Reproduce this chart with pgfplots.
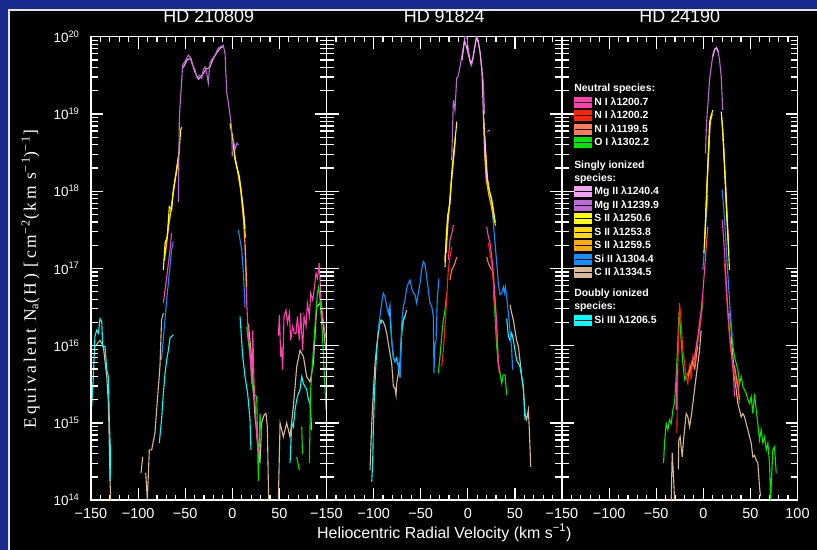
\documentclass[border=0pt]{standalone}
\usepackage{pgfplots}
\pgfplotsset{compat=1.18}
\usepackage{fontspec}
\setmainfont{Liberation Sans}
\newfontfamily\ylfont{Liberation Serif}[LetterSpace=15]
\definecolor{bgblue}{HTML}{1A2A8E}
\definecolor{cNa}{HTML}{FF40B0}
\definecolor{cNb}{HTML}{FF2400}
\definecolor{cNc}{HTML}{FF7A58}
\definecolor{cO}{HTML}{00E600}
\definecolor{cMa}{HTML}{F0A0F0}
\definecolor{cMb}{HTML}{C068D8}
\definecolor{cSa}{HTML}{FFFF00}
\definecolor{cSb}{HTML}{FFD700}
\definecolor{cSc}{HTML}{FFAA00}
\definecolor{cSi}{HTML}{1090FF}
\definecolor{cC}{HTML}{D8B894}
\definecolor{cSiIII}{HTML}{00FFFF}
\pgfplotsset{
  ln/.style={no markers, line width=1.1bp, color=#1},
  sw/.style={legend image code/.code={\fill[#1] (0bp,-5bp) rectangle (16.5bp,5bp); \path (0bp,0bp) -- (19bp,0bp);}},
  pnl/.style={
    anchor=south west, scale only axis,
    width=235.5bp, height=463.5bp,
    axis background/.style={fill=black},
    axis line style={white, line width=1.5bp},
    tick style={white, line width=1.2bp},
    major tick length=12bp, minor tick length=5bp,
    tick align=inside,
    xtick={-150,-100,-50,0,50,100}, minor x tick num=4,
    ytick={1e14,1e15,1e16,1e17,1e18,1e19,1e20},
    xticklabel style={text=white, font=\fontsize{14.5}{16}\selectfont, yshift=-5bp},
    yticklabel style={text=white, font=\fontsize{13.5}{15}\selectfont, xshift=-8bp},
    title style={text=white, font=\fontsize{18}{20}\selectfont, at={(0.5,1)}, anchor=base, yshift=8.4bp},
  },
  mnr/.style={
    anchor=south west, scale only axis,
    width=235.5bp, height=463.5bp,
    xmin=-150, xmax=100, ymin=14, ymax=20,
    axis x line=none, axis y line=box,
    y axis line style={white, line width=1.5bp},
    tick align=inside, major tick length=7bp,
    every tick/.style={white, line width=1.3bp},
    ytick={14.301,14.477,14.602,14.699,14.778,14.845,14.903,14.954,
           15.301,15.477,15.602,15.699,15.778,15.845,15.903,15.954,
           16.301,16.477,16.602,16.699,16.778,16.845,16.903,16.954,
           17.301,17.477,17.602,17.699,17.778,17.845,17.903,17.954,
           18.301,18.477,18.602,18.699,18.778,18.845,18.903,18.954,
           19.301,19.477,19.602,19.699,19.778,19.845,19.903,19.954},
    yticklabels={},
  }
}
\begin{document}
\begin{tikzpicture}[x=1bp,y=1bp]
\useasboundingbox (0,0) rectangle (817,550);
\fill[bgblue] (0,0) rectangle (817,550);
\fill[black] (8.5,0) rectangle (817,540.5);
\draw[white!80!gray, line width=1.6] (9.2,0) -- (9.2,539.8) -- (817,539.8);

%% ---------------- Panel 1 ----------------
\begin{axis}[pnl, at={(91bp,49.8bp)},
  xmin=-150, xmax=100, ymode=log, ymin=1e14, ymax=1e20,
  xticklabels={−150,−100,−50,0,50,{}},
  title={HD 210809},
  yticklabels={10\textsuperscript{14},10\textsuperscript{15},10\textsuperscript{16},10\textsuperscript{17},10\textsuperscript{18},10\textsuperscript{19},10\textsuperscript{20}},
  ylabel={\ylfont\fontsize{17.5}{19}\selectfont Equivalent N\textsubscript{a}(H) [cm\textsuperscript{−2}(km s\textsuperscript{−1})\textsuperscript{−1}]},
  ylabel style={text=white, at={(axis description cs:-0.257,0.477)}, anchor=center}]
% C II
\addplot[ln=cC] coordinates {(-145.8,9.77e15)(-140.4,1.17e16)(-136.9,9.77e15)(-133.3,3.98e15)(-131.5,1.78e15)(-129.7,1.62e14)(-129.0,1.0e14)};
\addplot[ln=cC] coordinates {(-96.9,2.24e14)(-95.1,3.63e14)};
\addplot[ln=cC] coordinates {(-91.9,2.24e14)(-90.2,1.0e14)(-88.1,4.47e14)(-85.6,4.47e14)(-82.1,7.41e14)(-80.3,1.48e15)(-76.8,5.37e15)(-75.1,2.14e16)(-73.2,2.63e16)};
\addplot[ln=cC] coordinates {(17.1,1.91e16)(20.6,6.61e15)(24.1,1.20e15)(27.7,4.90e14)(29.4,3.02e14)(31.2,1.0e15)(33.7,1.26e15)(35.8,1.32e15)(37.2,8.91e14)(38.6,1.0e14)};
\addplot[ln=cC] coordinates {(48.9,1.0e14)(50.7,1.0e15)(54.2,6.61e14)(57.7,1.0e15)(61.3,6.61e14)(64.8,1.62e15)(68.4,5.37e15)(71.9,8.71e15)(75.5,7.24e15)(79.0,3.98e15)(82.5,3.39e15)(86.1,5.89e15)(89.6,3.16e16)(93.2,3.55e16)(96.7,1.78e16)(99.2,8.71e15)};
% Si III
\addplot[ln=cSiIII] coordinates {(-149.3,1.62e15)(-147.5,3.98e15)(-145.8,1.32e16)(-144.0,1.58e16)(-142.2,1.45e16)(-140.4,2.24e16)(-138.6,2.04e16)(-137.5,9.77e15)(-135.1,9.77e15)(-133.3,4.90e15)(-131.5,3.98e15)(-130.5,1.0e15)(-129.1,3.63e14)(-129.8,1.78e14)};
\addplot[ln=cSiIII] coordinates {(-77.5,5.50e14)(-75.1,1.10e15)(-73.2,2.40e15)(-71.4,4.37e15)(-69.6,6.61e15)(-67.9,8.71e15)(-66.1,1.26e16)(-62.6,1.38e16)};
\addplot[ln=cSiIII] coordinates {(8.2,2.40e16)(11.0,7.41e15)(13.5,3.98e15)(16.3,2.40e15)(18.8,1.10e15)(19.8,4.47e14)};
\addplot[ln=cSiIII] coordinates {(61.3,3.02e14)(63.1,1.0e15)(64.8,8.91e14)(66.6,1.48e15)(68.4,2.00e15)(70.1,2.40e15)(71.9,2.69e15)(73.7,3.98e15)(75.5,3.24e15)(77.2,2.95e15)(79.0,2.69e15)(80.8,2.00e15)(82.5,1.78e15)(84.3,8.13e14)};
% Si II
\addplot[ln=cSi] coordinates {(-75.1,6.61e15)(-69.7,3.89e16)(-64.4,1.74e17)(-62.6,2.24e17)};
\addplot[ln=cSi] coordinates {(6.4,3.16e17)(10.0,1.74e17)(12.0,7.94e16)(13.5,3.16e16)};
% O I
\addplot[ln=cO] coordinates {(15.3,1.74e16)(18.8,7.41e15)(22.3,2.40e15)(25.9,2.19e15)(27.7,1.78e14)(29.4,1.32e15)(31.2,6.61e14)};
\addplot[ln=cO] coordinates {(68.4,3.63e14)(71.2,2.45e14)};
\addplot[ln=cO] coordinates {(73.7,8.91e14)(74.5,3.98e14)};
\addplot[ln=cO] coordinates {(81.8,3.02e14)(83.2,2.69e15)(85.4,6.61e15)(87.8,1.78e16)(90.3,4.79e16)(91.7,5.75e16)(93.2,3.89e16)(95.6,1.45e16)(97.8,3.98e15)(99.5,1.48e15)};
% N I 1200.7
\addplot[ln=cNa] coordinates {(-73.2,3.55e16)(-69.6,7.76e16)(-66.1,1.74e17)(-64.4,2.88e17)};
\addplot[ln=cNa] coordinates {(13.5,2.0e17)(15.3,3.55e16)(17.1,1.32e16)(18.8,8.71e15)(20.6,3.16e15)(21.7,1.58e16)(23.1,3.24e15)(25.9,6.61e14)(27.7,4.07e14)};
\addplot[ln=cNa] coordinates {(48.9,1.32e16)(50.0,2.51e16)(51.4,7.24e15)(52.4,8.71e15)(53.5,4.90e15)(54.9,2.40e16)(57.0,2.88e16)(58.5,1.95e16)(60.6,2.63e16)(62.0,1.17e16)(64.1,1.78e16)(65.9,1.45e16)(67.7,1.45e16)(69.1,2.40e16)(71.2,1.17e16)(72.6,2.63e16)(74.7,8.71e15)(76.2,2.40e16)(78.3,1.78e16)(79.7,3.55e16)(81.8,2.40e16)(83.2,4.79e16)(85.4,3.89e16)(86.8,5.25e16)(88.9,8.71e16)(90.3,7.41e16)(92.4,1.17e17)(93.9,4.37e16)(96.0,2.40e16)(97.4,1.78e16)(99.5,1.26e16)};
% S II
\addplot[ln=cSc] coordinates {(-71,1.58e17)(-67,3.98e17)(-63,8.91e17)(-60,1.58e18)(-57,2.82e18)};
\addplot[ln=cSc] coordinates {(2,3.16e18)(5,2.00e18)(9,1.0e18)(12,3.98e17)(14,1.58e17)(15.3,5.75e16)};
\addplot[ln=cSb] coordinates {(-72,1.26e17)(-68,3.55e17)(-65,5.62e17)(-62,1.12e18)(-59,2.00e18)(-56,3.55e18)};
\addplot[ln=cSb] coordinates {(0,5.62e18)(3,2.51e18)(6,1.78e18)(9,1.12e18)(12,5.01e17)(14,2.51e17)};
\addplot[ln=cSa] coordinates {(-73.2,9.55e16)(-71.4,2.14e17)(-69.0,2.57e17)(-66.9,6.31e17)(-64.4,5.75e17)(-62.6,1.05e18)(-59.0,1.86e18)(-56.6,3.09e18)(-54.8,6.17e18)(-53.7,6.76e18)};
\addplot[ln=cSa] coordinates {(-2.4,7.59e18)(1.1,4.17e18)(2.9,2.69e18)(4.7,2.09e18)(7.5,1.55e18)(10.0,8.51e17)(11.8,5.75e17)(13.5,3.31e17)};
% Mg II
\addplot[ln=cMa] coordinates {(-52,3.98e19)(-48,5.01e19)(-44,5.25e19)(-40,3.55e19)(-36,2.82e19)(-32,3.16e19)(-28,3.80e19)(-24,3.98e19)(-20,5.25e19)(-16,6.31e19)(-12,7.24e19)(-9,7.41e19)};
\addplot[ln=cMb] coordinates {(-57.3,7.24e17)(-56.2,9.12e18)(-52.7,4.27e19)(-50.2,4.79e19)(-46.7,5.75e19)(-44.9,5.50e19)(-43.1,4.57e19)(-39.6,3.72e19)(-37.8,3.02e19)(-34.3,3.16e19)(-32.5,2.88e19)(-30.8,3.72e19)(-29.0,4.07e19)(-27.2,3.39e19)(-25.5,2.51e19)(-23.7,4.57e19)(-21.9,5.01e19)(-18.4,5.75e19)(-14.9,7.08e19)(-9.6,7.76e19)(-7.7,6.03e19)(-5.9,1.86e19)(-4.1,1.38e19)(-1.7,8.32e18)(-0.6,6.17e18)(0.0,2.82e18)};
\addplot[ln=cMb] coordinates {(1.1,4.57e18)(3,3.55e18)(5,4.17e18)(6.4,3.98e18)};
\end{axis}
\begin{axis}[mnr, at={(91bp,49.8bp)}]
\addplot[draw=none, forget plot] coordinates {(-150,14)(100,20)};
\end{axis}

%% ---------------- Panel 2 ----------------
\begin{axis}[pnl, at={(326.5bp,49.8bp)},
  xmin=-150, xmax=100, ymode=log, ymin=1e14, ymax=1e20,
  yticklabels={},
  xticklabels={−150,−100,−50,0,50,{}},
  title={HD 91824},
  xlabel={Heliocentric Radial Velocity (km s\textsuperscript{−1})},
  xlabel style={text=white, font=\fontsize{16}{18}\selectfont, at={(axis description cs:0.5,0)}, anchor=base, yshift=-38bp}]
% C II
\addplot[ln=cC] coordinates {(-103.8,2.45e14)(-102.0,9.77e14)(-100.3,2.51e15)(-98.5,5.89e15)(-96.7,9.77e15)(-95.0,1.45e16)(-93.2,1.95e16)(-91.4,2.14e16)(-89.7,2.04e16)(-87.9,1.78e16)(-86.1,1.45e16)(-84.4,1.07e16)(-82.6,7.94e15)(-80.8,5.89e15)(-79.0,2.95e15)(-77.3,2.82e15)(-76.2,2.29e15)(-75.5,3.24e15)(-73.7,4.37e15)(-72.0,5.89e15)(-70.2,1.58e16)(-68.4,2.14e16)(-66.7,2.40e16)(-64.9,2.88e16)};
\addplot[ln=cC] coordinates {(44.8,3.39e16)(46.6,2.63e16)(48.4,2.14e16)(50.1,1.58e16)(51.9,1.17e16)(53.7,9.77e15)(55.4,6.46e15)(57.2,3.98e15)(59.0,2.69e15)(60.7,1.32e15)(62.5,1.10e15)(64.3,1.48e15)(65.3,8.13e14)(66.8,2.69e14)};
% Si III
\addplot[ln=cSiIII] coordinates {(-102.0,1.74e14)(-101.0,3.02e14)(-100.3,8.13e14)(-99.2,2.19e15)(-97.8,4.90e15)(-96.7,8.71e15)(-95.0,1.58e16)(-93.2,2.14e16)(-91.4,1.95e16)};
\addplot[ln=cSiIII] coordinates {(-84.0,2.82e16)(-82.6,2.40e16)(-80.8,1.17e16)(-79.0,6.92e15)(-77.3,6.17e15)(-75.5,6.92e15)(-73.7,5.37e15)(-72.0,3.98e15)(-70.9,9.77e15)(-69.8,1.58e16)(-68.4,2.14e16)(-66.7,2.40e16)};
\addplot[ln=cSiIII] coordinates {(41.3,2.24e16)(43.1,1.32e16)(44.8,1.17e16)(46.6,1.45e16)(48.4,1.17e16)(50.1,8.71e15)(51.9,6.46e15)(53.7,5.89e15)(55.4,5.37e15)(57.2,3.98e15)(59.0,2.95e15)(60.7,1.10e15)};
% Si II
\addplot[ln=cSi] coordinates {(-95.0,1.58e16)(-93.2,2.40e16)(-91.4,3.55e16)(-89.7,4.79e16)(-87.9,4.27e16)(-86.1,3.24e16)(-84.4,2.63e16)(-82.6,3.39e16)(-80.8,1.17e16)(-79.0,7.24e15)(-77.3,6.17e15)(-75.5,6.46e15)(-73.7,5.89e15)(-72.0,3.80e15)(-70.2,1.95e16)(-68.4,3.24e16)(-66.7,3.89e16)(-64.9,5.50e16)(-63.1,6.46e16)(-61.3,7.08e16)(-59.6,5.50e16)(-57.8,4.79e16)(-56.0,4.57e16)(-54.3,3.55e16)(-52.5,4.79e16)(-50.7,6.46e16)(-49.0,9.55e16)(-47.2,1.23e17)(-45.4,1.12e17)(-43.7,7.76e16)(-41.9,5.25e16)(-40.1,3.55e16)(-38.3,3.24e16)(-36.6,2.40e16)(-35.9,4.37e15)(-34.8,1.07e16)(-33.7,1.17e16)(-32.3,4.27e16)(-30.6,7.41e16)};
\addplot[ln=cSi] coordinates {(21.8,9.33e17)(23.6,7.76e17)(25.4,6.31e17)(27.1,3.89e17)(28.9,2.14e17)(30.7,1.17e17)(32.4,6.46e16)(34.2,4.57e16)(36.0,4.79e16)(37.7,5.75e16)(38.8,4.79e16)(39.9,5.75e16)(41.3,4.27e16)(43.1,2.63e16)(44.8,1.58e16)(46.6,8.71e15)(47.6,4.90e15)};
% O I
\addplot[ln=cO] coordinates {(-31.3,4.37e15)(-29.5,7.24e15)(-27.7,1.32e16)(-26.0,2.14e16)(-24.2,2.88e16)(-22.4,4.79e16)};
\addplot[ln=cO] coordinates {(27.1,5.25e16)(28.9,2.40e16)(30.7,9.77e15)(32.4,5.89e15)(34.2,4.37e15)(36.0,3.24e15)(37.7,4.17e15)(39.5,4.17e15)(41.3,2.29e15)};
% N I
\addplot[ln=cNb] coordinates {(-27.7,5.37e15)(-26.0,8.71e15)(-24.2,1.78e16)(-22.4,4.27e16)(-20.7,9.55e16)(-18.9,1.41e17)(-17.1,1.91e17)};
\addplot[ln=cNb] coordinates {(21.8,2.14e17)(23.6,1.58e17)(25.4,1.17e17)(27.1,6.46e16)(28.9,3.24e16)(30.7,1.45e16)(32.4,5.89e15)(33.5,4.37e15)};
\addplot[ln=cNc] coordinates {(-18.9,7.08e16)(-17.1,9.55e16)(-15.3,1.05e17)(-13.6,1.17e17)(-11.8,1.41e17)};
\addplot[ln=cNc] coordinates {(20.1,1.41e17)(21.8,1.17e17)(23.6,1.05e17)(25.4,9.55e16)};
\addplot[ln=cNa] coordinates {(-20.7,1.29e17)(-18.9,2.34e17)(-17.1,2.82e17)(-15.3,3.63e17)};
\addplot[ln=cNa] coordinates {(20.1,3.47e17)(21.8,2.57e17)(23.6,2.14e17)(25.4,1.41e17)(27.1,8.71e16)(28.9,4.27e16)(30.7,1.95e16)(32.4,5.89e15)(34.2,4.37e15)};
% S II
\addplot[ln=cSc] coordinates {(-24.5,1.26e17)(-22,3.55e17)(-20,5.62e17)(-17,1.58e18)(-14,3.98e18)};
\addplot[ln=cSc] coordinates {(17.5,3.55e18)(19.5,1.41e18)(22,9.33e17)(25,6.31e17)(27.5,4.47e17)(29.5,3.55e17)};
\addplot[ln=cSb] coordinates {(-23,1.58e17)(-21,3.98e17)(-19,7.94e17)(-16,2.0e18)(-13,5.01e18)};
\addplot[ln=cSb] coordinates {(17,7.94e18)(19,3.16e18)(21,1.41e18)(23,1.0e18)(25,7.94e17)(27,5.62e17)(29,3.98e17)};
\addplot[ln=cSa] coordinates {(-24.2,1.05e17)(-22.4,3.16e17)(-21.3,4.90e17)(-18.9,6.92e17)(-17.1,1.70e18)(-15.3,2.82e18)(-13.6,4.57e18)(-12.5,6.17e18)(-11.8,7.94e18)};
\addplot[ln=cSa] coordinates {(16.5,1.07e19)(18.3,4.17e18)(20.1,1.70e18)(21.8,1.15e18)(23.6,9.33e17)(25.4,7.76e17)(27.1,5.75e17)(28.9,3.89e17)};
% Mg II
\addplot[ln=cMb] coordinates {(-17.1,2.51e18)(-15.3,1.51e19)(-13.6,1.12e19)(-11.8,2.88e19)(-10.0,3.16e19)(-8.3,4.07e19)(-6.5,5.50e19)(-4.7,7.41e19)(-3.0,1.0e20)(-1.2,1.05e20)(0.6,6.76e19)(2.4,5.01e19)(4.1,4.27e19)(5.9,5.50e19)(7.7,7.41e19)(9.4,1.05e20)(11.2,8.32e19)(13.0,6.17e19)(14.7,4.07e19)(16.5,2.51e19)(17.8,1.0e19)};
\addplot[ln=cMb] coordinates {(20.8,5.89e18)(23.3,6.17e18)};
\addplot[ln=cMa] coordinates {(-6,5.01e19)(-3.5,8.91e19)(-1,7.08e19)(1,5.62e19)(3,4.47e19)(5,5.01e19)(7,7.08e19)(9,9.55e19)(11,8.91e19)(13,6.31e19)(15,3.55e19)(17.6,3.80e18)(20.1,1.38e18)};
\end{axis}
\begin{axis}[mnr, at={(326.5bp,49.8bp)}]
\addplot[draw=none, forget plot] coordinates {(-150,14)(100,20)};
\end{axis}

%% ---------------- Panel 3 ----------------
\begin{axis}[pnl, at={(562bp,49.8bp)},
  xmin=-150, xmax=100, ymode=log, ymin=1e14, ymax=1e20,
  yticklabels={},
  xticklabels={−150,−100,−50,0,50,100},
  title={HD 24190},
  legend style={at={(axis description cs:0.052,0.899)}, anchor=north west, draw=none, fill=none,
    text=white, font=\bfseries\fontsize{10.5}{12}\selectfont, row sep=2.9bp, inner sep=0pt,
    nodes={inner sep=0.6bp}, cells={anchor=west}},
  legend cell align=left]
% C II
\addplot[ln=cC, forget plot] coordinates {(-34.1,1.0e14)(-33.0,4.07e14)(-31.6,2.0e14)(-30.5,1.0e14)};
\addplot[ln=cC, forget plot] coordinates {(-26.5,2.51e14)(-26.0,6.03e14)(-24.6,6.61e14)(-23.5,4.90e14)(-22.4,3.63e14)(-21.0,6.03e14)(-19.9,8.13e14)(-18.2,1.32e15)(-16.4,1.20e15)(-14.6,8.91e14)(-12.9,1.20e15)(-11.1,1.78e15)(-9.3,2.69e15)(-7.6,3.98e15)(-5.8,5.89e15)(-4.0,8.71e15)(-2.3,1.58e16)};
\addplot[ln=cC, forget plot] coordinates {(29.6,1.32e16)(31.4,7.24e15)(33.1,3.98e15)(34.9,2.69e15)(36.7,1.78e15)(38.4,1.48e15)(40.2,1.20e15)(42.0,1.32e15)(43.8,1.20e15)(45.5,9.77e14)(47.3,8.13e14)(49.1,6.61e14)(50.8,5.50e14)(52.6,3.63e14)(54.4,3.80e14)(56.1,3.31e14)(57.9,3.02e14)(59.7,1.48e14)(60.7,1.12e14)};
% O I
\addplot[ln=cO, forget plot] coordinates {(-42.2,3.02e14)(-41.2,5.50e14)(-39.4,9.77e14)(-37.6,8.13e14)(-35.9,1.10e15)(-34.1,9.77e14)(-32.3,1.48e15)(-30.6,1.78e15)(-28.8,3.98e15)(-27.0,1.17e16)(-26.0,2.40e16)(-24.6,1.95e16)(-23.5,1.17e16)(-21.7,5.89e15)(-19.9,3.63e15)(-18.2,3.98e15)(-16.4,4.37e15)(-14.6,4.90e15)(-12.9,4.90e15)(-11.1,5.89e15)(-9.3,6.46e15)(-7.6,8.71e15)(-5.8,1.17e16)(-4.0,1.58e16)(-2.3,2.40e16)(-0.5,3.55e16)};
\addplot[ln=cO, forget plot] coordinates {(27.8,2.63e16)(29.6,1.58e16)(31.4,9.77e15)(33.1,7.24e15)(34.9,5.89e15)(36.7,4.90e15)(38.4,3.24e15)(40.2,3.98e15)(42.0,2.95e15)(43.8,2.69e15)(45.5,2.40e15)(47.3,2.00e15)(49.1,1.78e15)(50.8,2.19e15)(52.6,1.32e15)(54.4,2.40e15)(56.1,1.48e15)(57.9,9.77e14)(59.7,6.03e14)(61.4,8.13e14)(63.2,5.50e14)(65.0,6.61e14)(66.8,4.47e14)(68.5,5.50e14)(70.3,3.02e14)(71.4,1.0e14)(72.5,2.0e14)(73.8,4.47e14)(75.6,4.90e14)(77.4,2.24e14)};
% N I
\addplot[ln=cNb, forget plot] coordinates {(-28.1,7.41e14)(-27.0,5.89e15)(-26.0,1.58e16)(-25.3,3.55e16)(-24.2,2.63e16)(-23.1,1.58e16)(-21.7,8.71e15)(-19.9,5.89e15)(-18.2,3.98e15)(-16.4,3.24e15)(-14.6,5.89e15)(-12.9,3.63e15)(-11.1,7.24e15)(-9.3,5.89e15)(-7.6,7.94e15)(-5.8,1.17e16)(-4.0,1.58e16)(-2.3,2.40e16)(-0.5,4.27e16)};
\addplot[ln=cNb, forget plot] coordinates {(22.5,1.17e17)(24.3,5.25e16)(26.1,2.40e16)(27.8,1.32e16)(29.6,7.94e15)(31.4,5.89e15)(33.1,4.37e15)(34.9,3.24e15)(36.7,3.63e15)(37.7,2.19e15)(38.4,1.78e15)};
\addplot[ln=cNc, forget plot] coordinates {(-16,3.98e15)(-12,6.31e15)(-9,5.01e15)(-6,1.0e16)};
\addplot[ln=cNc, forget plot] coordinates {(33,5.62e15)(35,3.98e15)(37,2.82e15)(38.5,2.0e15)};
\addplot[ln=cNa, forget plot] coordinates {(-28.8,1.48e15)(-27.7,5.89e15)};
\addplot[ln=cNa, forget plot] coordinates {(-12.9,5.89e15)(-9.3,7.24e15)(-5.8,1.32e16)(-4.0,1.95e16)(-2.3,2.88e16)(-0.5,4.79e16)(1.3,9.55e16)(3.1,1.91e17)(4.8,3.47e17)};
\addplot[ln=cNa, forget plot] coordinates {(20.0,4.27e17)(21.4,2.57e17)(23.2,1.17e17)(25.0,4.79e16)(26.8,2.14e16)(28.5,1.17e16)(30.3,7.24e15)(32.1,3.98e15)(33.1,2.19e15)};
% Si II
\addplot[ln=cSi, forget plot] coordinates {(-0.5,9.55e16)(1.3,1.91e17)(3.1,4.68e17)(4.8,8.91e17)};
\addplot[ln=cSi, forget plot] coordinates {(20.0,1.05e18)(21.8,5.75e17)(23.6,2.57e17)(25.3,1.17e17)(27.1,5.25e16)(28.9,2.40e16)(30.7,1.32e16)};
% S II
\addplot[ln=cSc, forget plot] coordinates {(2.5,4.47e17)(4.5,1.58e18)(6.5,5.01e18)};
\addplot[ln=cSc, forget plot] coordinates {(21,5.01e18)(23.5,1.26e18)(25.5,3.98e17)(27,1.58e17)};
\addplot[ln=cSb, forget plot] coordinates {(1.5,2.51e17)(3.5,8.91e17)(5.5,3.16e18)(7.5,7.94e18)(9.5,1.0e19)};
\addplot[ln=cSb, forget plot] coordinates {(19.5,8.91e18)(21.5,3.98e18)(23,1.78e18)(25,5.62e17)(26.5,2.24e17)};
\addplot[ln=cSa, forget plot] coordinates {(0.6,1.58e17)(2.0,3.16e17)(3.1,6.92e17)(4.1,1.38e18)(4.8,2.29e18)(5.9,4.57e18)(6.6,7.59e18)(7.7,9.12e18)(9.1,1.02e19)(10.1,1.12e19)};
\addplot[ln=cSa, forget plot] coordinates {(19.0,1.07e19)(20.7,6.17e18)(21.8,3.09e18)(23.2,1.38e18)(24.3,6.31e17)(26.1,2.57e17)(27.8,9.55e16)};
% Mg II
\addplot[ln=cMb, forget plot] coordinates {(2.3,3.09e18)(3.1,6.17e18)(4.1,1.02e19)(5.5,1.66e19)(6.6,2.75e19)(8.4,4.07e19)(10.1,5.75e19)(11.9,6.92e19)(13.7,7.08e19)(15.4,6.76e19)(17.2,5.01e19)(19.0,3.02e19)(20.0,1.66e19)(20.7,1.12e19)};
\addplot[ln=cMa, forget plot] coordinates {(10,5.50e19)(12,6.76e19)(14,7.24e19)(16,6.31e19)};
% legend
\addlegendimage{empty legend}\addlegendentry{\hspace*{-20.2bp}Neutral species:}
\addlegendimage{sw=cNa}\addlegendentry{N I λ1200.7}
\addlegendimage{sw=cNb}\addlegendentry{N I λ1200.2}
\addlegendimage{sw=cNc}\addlegendentry{N I λ1199.5}
\addlegendimage{sw=cO}\addlegendentry{O I λ1302.2}
\addlegendimage{empty legend}\addlegendentry{\hspace*{-20.2bp}\rule{0pt}{17bp}Singly ionized}
\addlegendimage{empty legend}\addlegendentry{\hspace*{-20.2bp}species:}
\addlegendimage{sw=cMa}\addlegendentry{Mg II λ1240.4}
\addlegendimage{sw=cMb}\addlegendentry{Mg II λ1239.9}
\addlegendimage{sw=cSa}\addlegendentry{S II λ1250.6}
\addlegendimage{sw=cSb}\addlegendentry{S II λ1253.8}
\addlegendimage{sw=cSc}\addlegendentry{S II λ1259.5}
\addlegendimage{sw=cSi}\addlegendentry{Si II λ1304.4}
\addlegendimage{sw=cC}\addlegendentry{C II λ1334.5}
\addlegendimage{empty legend}\addlegendentry{\hspace*{-20.2bp}\rule{0pt}{15.5bp}Doubly ionized}
\addlegendimage{empty legend}\addlegendentry{\hspace*{-20.2bp}species:}
\addlegendimage{sw=cSiIII}\addlegendentry{Si III λ1206.5}
\end{axis}
\begin{axis}[mnr, at={(562bp,49.8bp)}]
\addplot[draw=none, forget plot] coordinates {(-150,14)(100,20)};
\end{axis}
\end{tikzpicture}
\end{document}
